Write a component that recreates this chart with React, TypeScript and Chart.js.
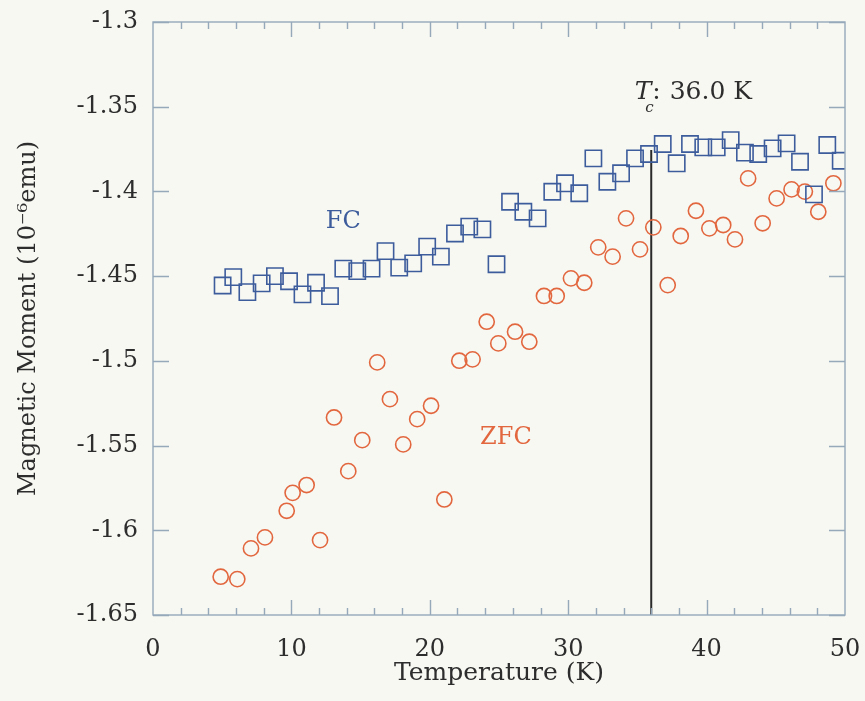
import React, { useEffect, useRef } from 'react';
import { Chart, registerables } from 'chart.js';

Chart.register(...registerables);

// ---- Data ----
const fcTemperature = [5.03, 5.8, 6.82, 7.85, 8.81, 9.83, 10.8, 11.78, 12.79, 13.75, 14.76, 15.79, 16.8, 17.79, 18.8, 19.81, 20.8, 21.82, 22.85, 23.8, 24.82, 25.8, 26.76, 27.79, 28.85, 29.77, 30.8, 31.82, 32.83, 33.82, 34.83, 35.84, 36.83, 37.84, 38.8, 39.76, 40.73, 41.74, 42.77, 43.73, 44.77, 45.78, 46.75, 47.76, 48.72, 49.69];
const fcMoment = [-1.4555, -1.4506, -1.4594, -1.4543, -1.45, -1.453, -1.4608, -1.4539, -1.4618, -1.4456, -1.447, -1.4456, -1.4352, -1.445, -1.4425, -1.4326, -1.4385, -1.4248, -1.4208, -1.4224, -1.443, -1.4061, -1.412, -1.4159, -1.4002, -1.3952, -1.4011, -1.3805, -1.3943, -1.3893, -1.3805, -1.3779, -1.372, -1.3834, -1.372, -1.374, -1.374, -1.3697, -1.3771, -1.3779, -1.3746, -1.3716, -1.3825, -1.4017, -1.3726, -1.3819];

const zfcTemperature = [4.89, 6.09, 7.08, 8.09, 9.66, 10.09, 11.1, 12.07, 13.08, 14.11, 15.12, 16.2, 17.12, 18.08, 19.09, 20.09, 21.05, 22.13, 23.09, 24.11, 24.95, 26.16, 27.19, 28.25, 29.17, 30.2, 31.16, 32.17, 33.21, 34.18, 35.19, 36.15, 37.19, 38.13, 39.23, 40.2, 41.2, 42.05, 43.0, 44.05, 45.06, 46.14, 47.1, 48.07, 49.16];
const zfcMoment = [-1.6274, -1.6288, -1.6107, -1.6042, -1.5885, -1.5779, -1.5733, -1.6058, -1.5334, -1.5651, -1.5468, -1.5009, -1.5226, -1.5493, -1.5344, -1.5265, -1.5818, -1.4999, -1.4991, -1.4769, -1.4897, -1.4828, -1.4887, -1.4617, -1.4617, -1.4513, -1.4539, -1.433, -1.4385, -1.4159, -1.4342, -1.4212, -1.4553, -1.4263, -1.4114, -1.4218, -1.4198, -1.4283, -1.3923, -1.4188, -1.4041, -1.3988, -1.4001, -1.412, -1.3952];

const tcTemperature = 36.0;
const tcLineMoments = [-1.65, -1.3756];
const tcLabelText = '36.0 K';

const xRange = [0, 50];
const yRange = [-1.65, -1.3];
const xMajorStep = 10;
const xMinorStep = 2;
const yStep = 0.05;

const xTitle = 'Temperature (K)';
const yTitle = 'Magnetic Moment (10\u207B\u2076emu)';

// label anchors (data units)
const fcLabel = { text: 'FC', x: 13.75, y: -1.418 };
const zfcLabel = { text: 'ZFC', x: 25.5, y: -1.5456 };
const tcLabelAnchor = { x: 34.8, y: -1.3455 };

// ---- Styles ----
const FONT = "'DejaVu Serif', 'Liberation Serif', serif";
const BG = '#f7f8f2';
const AXIS = '#95a9bb';
const TEXT = '#2d2d2d';
const BLUE = '#3d5c9c';
const ORANGE = '#e2673f';

const decorPlugin = {
  id: 'decor',
  beforeDraw(chart: any) {
    const ctx = chart.ctx;
    ctx.save();
    ctx.fillStyle = BG;
    ctx.fillRect(0, 0, chart.width, chart.height);
    ctx.restore();
  },
  afterDatasetsDraw(chart: any) {
    const { ctx, chartArea } = chart;
    const { left, right, top, bottom } = chartArea;
    const xs = chart.scales.x;
    const ys = chart.scales.y;
    ctx.save();
    ctx.strokeStyle = AXIS;
    ctx.lineWidth = 1.4;
    ctx.strokeRect(left, top, right - left, bottom - top);
    ctx.beginPath();
    const nX = Math.round((xRange[1] - xRange[0]) / xMinorStep);
    for (let i = 1; i < nX; i++) {
      const v = xRange[0] + i * xMinorStep;
      const px = Math.round(xs.getPixelForValue(v)) + 0.5;
      const major = Math.abs(v / xMajorStep - Math.round(v / xMajorStep)) < 1e-6;
      const len = major ? 15 : 7;
      ctx.moveTo(px, bottom);
      ctx.lineTo(px, bottom - len);
      ctx.moveTo(px, top);
      ctx.lineTo(px, top + len);
    }
    ys.ticks.forEach((t: any) => {
      const py = Math.round(ys.getPixelForValue(t.value)) + 0.5;
      ctx.moveTo(left, py);
      ctx.lineTo(left + 16, py);
      ctx.moveTo(right, py);
      ctx.lineTo(right - 16, py);
    });
    ctx.stroke();

    // text labels
    ctx.textBaseline = 'middle';
    ctx.textAlign = 'center';
    ctx.font = `24px ${FONT}`;
    ctx.fillStyle = BLUE;
    ctx.fillText(fcLabel.text, xs.getPixelForValue(fcLabel.x), ys.getPixelForValue(fcLabel.y));
    ctx.fillStyle = ORANGE;
    ctx.fillText(zfcLabel.text, xs.getPixelForValue(zfcLabel.x), ys.getPixelForValue(zfcLabel.y));

    // Tc label
    const tx = xs.getPixelForValue(tcLabelAnchor.x);
    const ty = ys.getPixelForValue(tcLabelAnchor.y);
    ctx.textAlign = 'left';
    ctx.textBaseline = 'alphabetic';
    ctx.fillStyle = TEXT;
    ctx.font = `italic 25px ${FONT}`;
    ctx.fillText('T', tx, ty);
    const tw = ctx.measureText('T').width;
    ctx.font = `italic 15px ${FONT}`;
    ctx.fillText('c', tx + tw - 6, ty + 13);
    ctx.font = `25px ${FONT}`;
    ctx.fillText(':', tx + tw + 1, ty);
    const cw = ctx.measureText(': ').width;
    ctx.fillText(tcLabelText, tx + tw + 2 + cw, ty);
    ctx.restore();
  },
};

export default function App() {
  const ref = useRef<HTMLCanvasElement | null>(null);

  useEffect(() => {
    if (!ref.current) return;
    const fcData = fcTemperature.map((t, i) => ({ x: t, y: fcMoment[i] }));
    const zfcData = zfcTemperature.map((t, i) => ({ x: t, y: zfcMoment[i] }));
    const tcData = tcLineMoments.map((m) => ({ x: tcTemperature, y: m }));

    const chart = new Chart(ref.current, {
      type: 'scatter',
      data: {
        datasets: [
          {
            label: 'Tc',
            data: tcData,
            showLine: true,
            borderColor: '#2a2a2a',
            borderWidth: 2,
            pointRadius: 0,
            order: 3,
          },
          {
            label: 'ZFC',
            data: zfcData,
            pointStyle: 'circle',
            pointRadius: 7.6,
            borderColor: ORANGE,
            backgroundColor: 'rgba(0,0,0,0)',
            borderWidth: 1.6,
            order: 2,
          },
          {
            label: 'FC',
            data: fcData,
            pointStyle: 'rect',
            pointRadius: 11.5,
            borderColor: BLUE,
            backgroundColor: 'rgba(0,0,0,0)',
            borderWidth: 1.6,
            order: 1,
          },
        ],
      },
      options: {
        responsive: false,
        animation: false,
        devicePixelRatio: 1,
        layout: { padding: { top: 22, right: 20, left: 0, bottom: 0 } },
        plugins: {
          legend: { display: false },
          tooltip: { enabled: false },
        },
        scales: {
          x: {
            type: 'linear',
            min: xRange[0],
            max: xRange[1],
            grid: { display: false, drawTicks: false },
            border: { display: false },
            ticks: {
              stepSize: xMajorStep,
              padding: 20,
              color: TEXT,
              maxRotation: 0,
              autoSkip: false,
              font: { family: FONT, size: 24 },
            },
            title: {
              display: true,
              text: xTitle,
              color: TEXT,
              font: { family: FONT, size: 25 },
              padding: { top: 0, bottom: 13 },
            },
            afterFit(scale: any) {
              scale.height = 86;
              scale.paddingLeft = 0;
              scale.paddingRight = 0;
            },
          },
          y: {
            type: 'linear',
            min: yRange[0],
            max: yRange[1],
            grid: { display: false, drawTicks: false },
            border: { display: false },
            ticks: {
              stepSize: yStep,
              padding: 15,
              color: TEXT,
              autoSkip: false,
              font: { family: FONT, size: 24 },
              callback: (v: any) => String(Number(Number(v).toFixed(2))),
            },
            title: {
              display: true,
              text: yTitle,
              color: TEXT,
              font: { family: FONT, size: 24 },
              padding: { top: 14, bottom: 0 },
            },
            afterFit(scale: any) {
              scale.width = 153;
              scale.paddingTop = 0;
              scale.paddingBottom = 0;
            },
          },
        },
      },
      plugins: [decorPlugin],
    } as any);

    return () => chart.destroy();
  }, []);

  return (
    <div style={{ position: 'absolute', left: 0, top: 0, width: 865, height: 701, background: BG }}>
      <canvas ref={ref} width={865} height={701} />
    </div>
  );
}
